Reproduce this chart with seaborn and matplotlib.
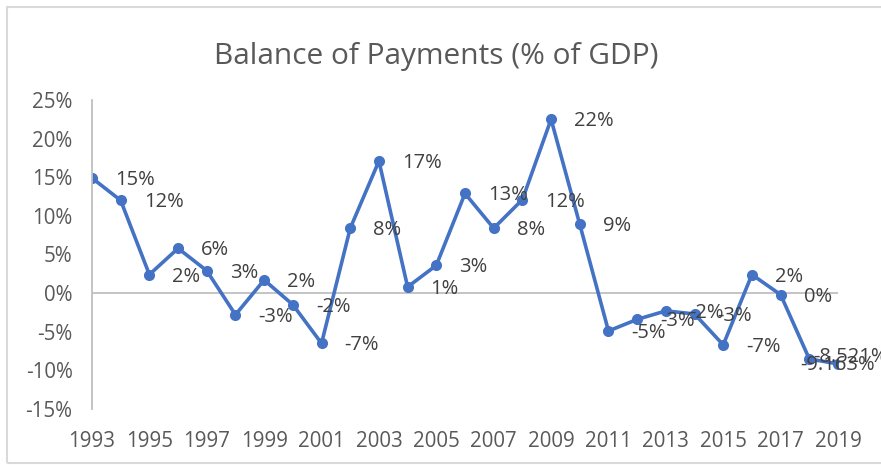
import pandas as pd
import matplotlib
matplotlib.use("Agg")
import matplotlib.pyplot as plt
import seaborn as sns
from matplotlib.patches import Rectangle

years = list(range(1993, 2020))
balance_pct = [14.9, 12.0, 2.4, 5.8, 2.9, -2.8, 1.7, -1.5, -6.5, 8.4, 17.1, 0.8, 3.6,
               12.9, 8.4, 12.1, 22.5, 8.9, -4.9, -3.4, -2.3, -2.7, -6.7, 2.4, -0.2, -8.521, -9.163]
point_labels = ["15%", "12%", "2%", "6%", "3%", "-3%", "2%", "-2%", "-7%", "8%", "17%", "1%", "3%",
                "13%", "8%", "12%", "22%", "9%", "-5%", "-3%", "-2%", "-3%", "-7%", "2%", "0%",
                "-8.521%", "-9.163%"]
y_ticks = [-15, -10, -5, 0, 5, 10, 15, 20, 25]
x_ticks = list(range(1993, 2020, 2))

df = pd.DataFrame({"Year": years, "Balance": balance_pct, "Label": point_labels})

sns.set_style("white")
plt.rcParams["font.family"] = ["Open Sans", "DejaVu Sans"]
plt.rcParams["axes.unicode_minus"] = False

fig = plt.figure(figsize=(8.81, 4.65), dpi=100)
ax = fig.add_axes([92 / 881, 1 - 409 / 465, (838 - 92) / 881, (409 - 100) / 465])

# light frame round the chart, like the Excel chart area
fig.patches.append(Rectangle((7 / 881, 2 / 465), 1.0, 456 / 465, transform=fig.transFigure,
                             fill=False, edgecolor="#D9D9D9", linewidth=1.5))

ax.axhline(0, color="#BFBFBF", linewidth=1.3, zorder=1)
sns.lineplot(data=df, x="Year", y="Balance", ax=ax, color="#4472C4", linewidth=2.6,
             marker="o", markersize=8, markeredgewidth=0, zorder=2)

# data labels sit to the right of each point; the last two were moved by hand
for i, row in df.iterrows():
    if row["Year"] == 2018:
        off = (4, 2)
    elif row["Year"] == 2019:
        off = (-38, -1)
    else:
        off = (23, -2)
    ax.annotate(row["Label"], (row["Year"], row["Balance"]), xytext=off,
                textcoords="offset pixels", ha="left", va="center",
                fontsize=14.5, color="#404040", zorder=4, annotation_clip=False)

ax.set_xlim(1993, 2019)
ax.set_ylim(-15, 25)
ax.set_yticks(y_ticks)
ax.set_yticklabels([f"{v}%" for v in y_ticks])
ax.set_xticks(x_ticks)
ax.set_xticklabels([str(v) for v in x_ticks])
ax.tick_params(axis="y", length=0, pad=14, labelsize=14.8, labelcolor="#595959")
ax.tick_params(axis="x", length=0, pad=16, labelsize=14.8, labelcolor="#595959")
ax.set_xlabel("")
ax.set_ylabel("")

for side in ["top", "right", "bottom"]:
    ax.spines[side].set_visible(False)
ax.spines["left"].set_color("#BFBFBF")
ax.spines["left"].set_linewidth(1.3)

fig.text(436 / 881, 1 - 56 / 465, "Balance of Payments (% of GDP)", ha="center", va="center",
         fontsize=21.5, color="#595959")

fig.savefig("out.png", dpi=100)
